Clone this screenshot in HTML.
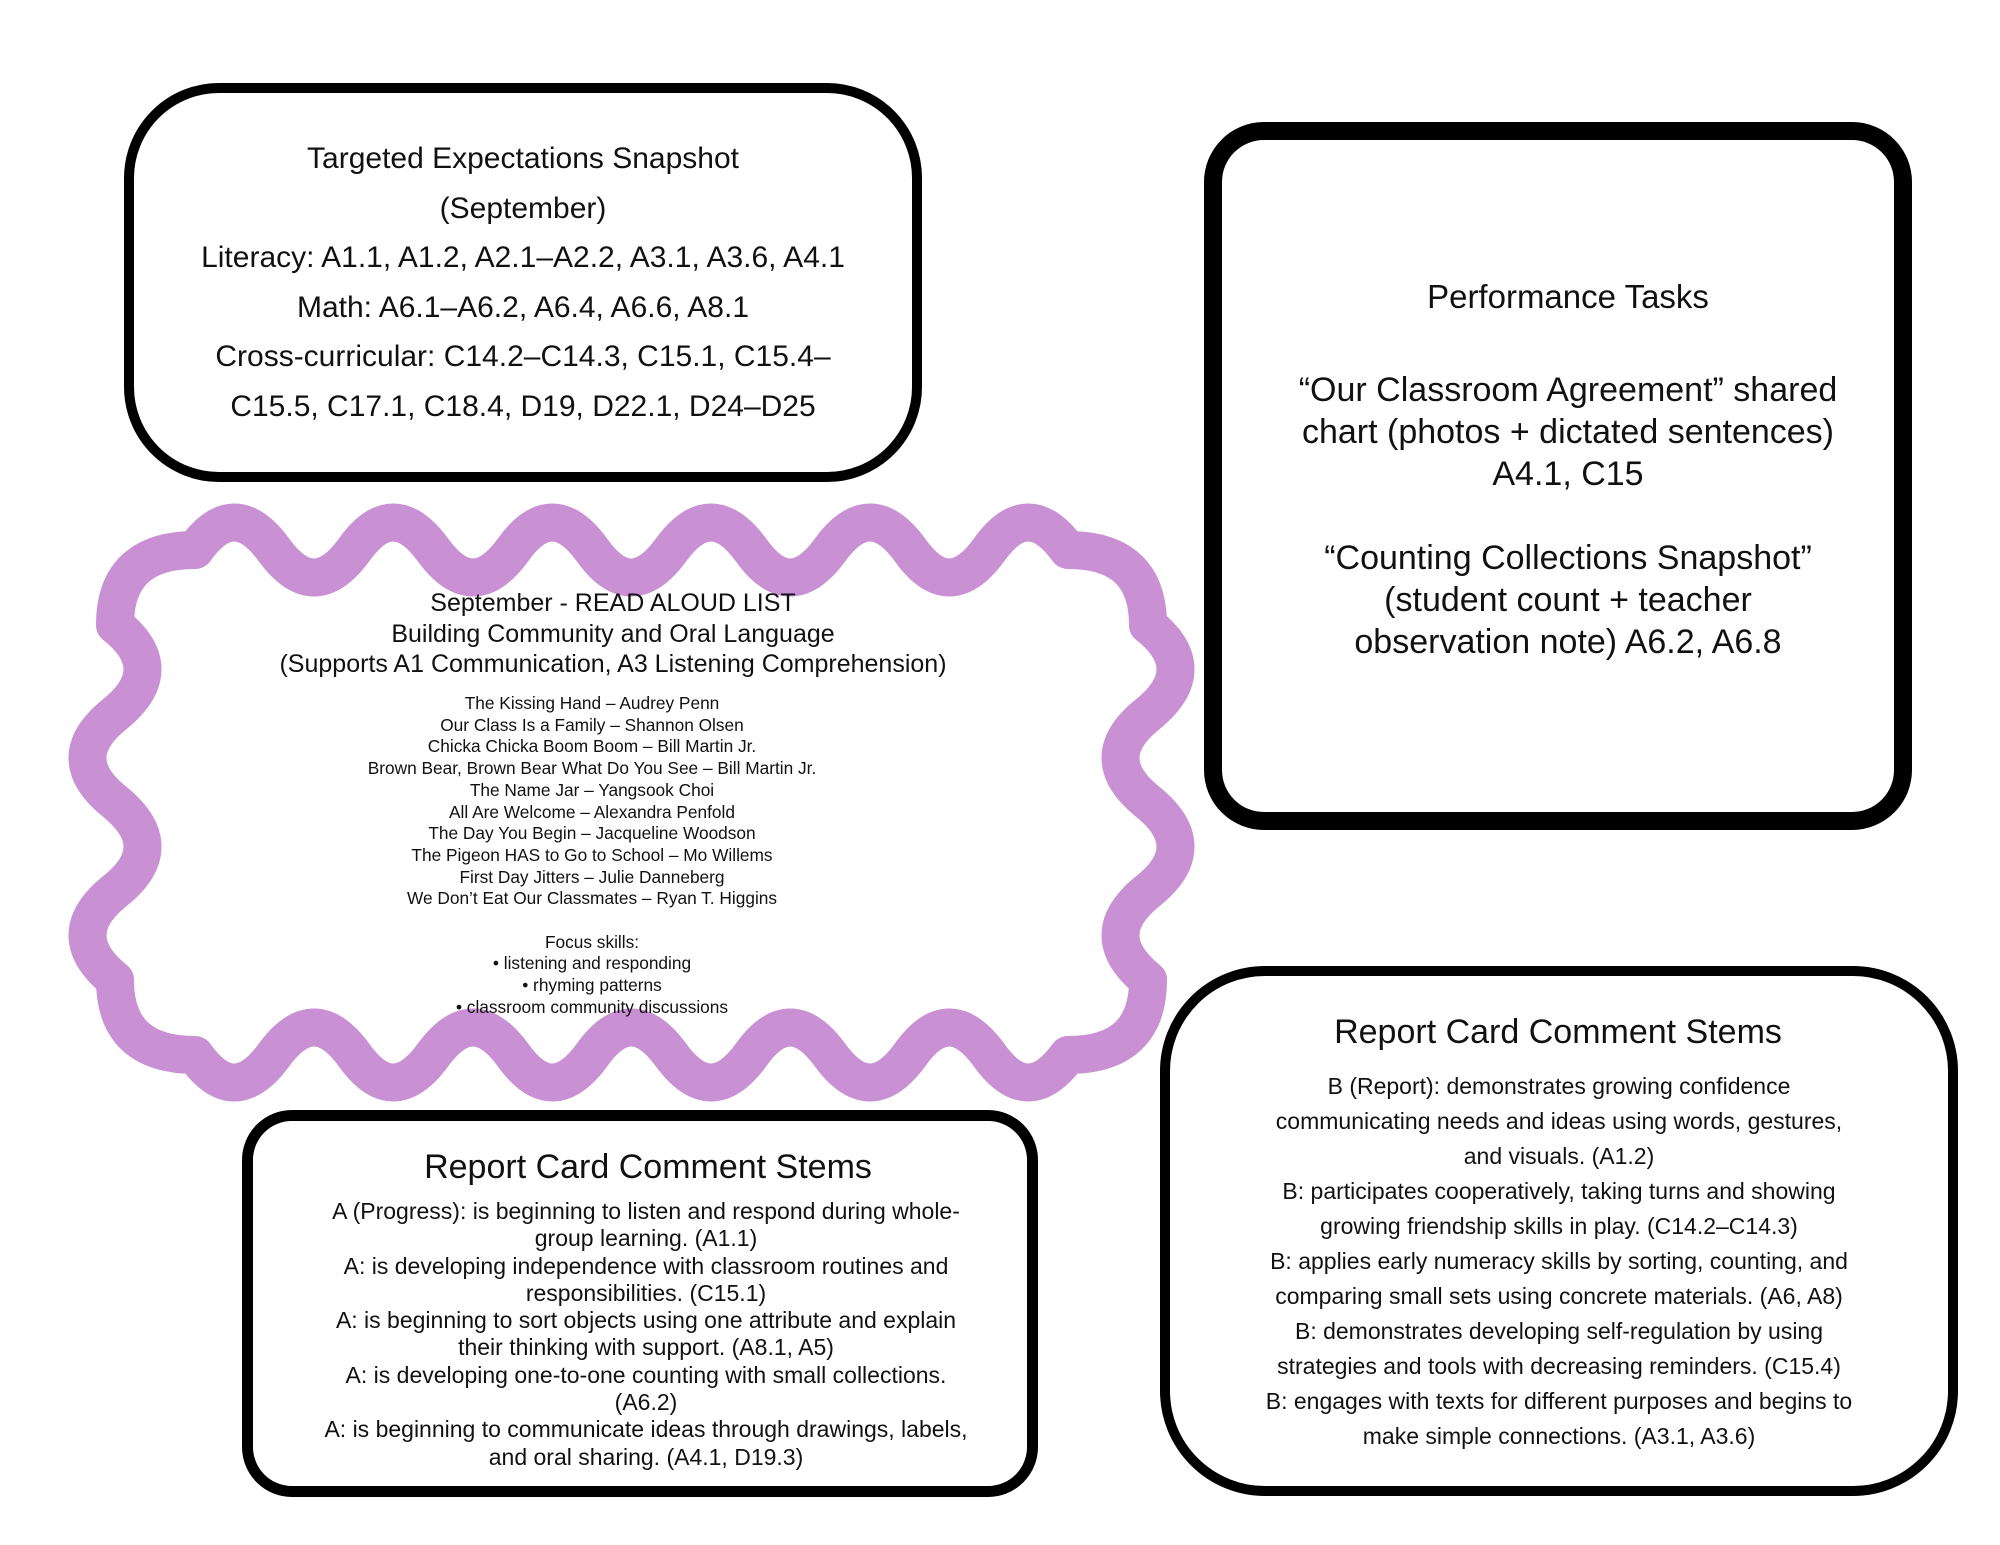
<!DOCTYPE html>
<html><head><meta charset="utf-8"><style>
html,body{margin:0;padding:0;background:#fff;}
body{width:2000px;height:1545px;position:relative;overflow:hidden;font-family:"Liberation Sans",sans-serif;color:#111;}
.box{position:absolute;box-sizing:border-box;border:solid #000;background:transparent;}
.t{position:absolute;text-align:center;white-space:nowrap;transform:translateX(-50%);}
</style></head><body>
<div class="box" style="left:124px;top:83px;width:798px;height:399px;border-width:10px;border-radius:95px;"></div>
<div class="box" style="left:1204px;top:122px;width:708px;height:708px;border-width:18px;border-radius:60px;"></div>
<div class="box" style="left:242px;top:1110px;width:796px;height:387px;border-width:11px;border-radius:50px;"></div>
<div class="box" style="left:1160px;top:966px;width:798px;height:530px;border-width:10px;border-radius:105px;"></div>

<svg style="position:absolute;left:0;top:0" width="2000" height="1545">
<path fill="none" stroke="#c990d4" stroke-width="38" stroke-linejoin="round" stroke-linecap="round" d="
M195 550 Q234 495 274 550 Q314 605 354 550 Q393 495 433 550 Q473 605 513 550 Q552 495 592 550 Q631 605 671 550 Q711 495 751 550 Q790 605 830 550 Q870 495 910 550 Q949 605 989 550 Q1028 495 1068 550
Q1148 550 1148 625
Q1203 669 1148 714 Q1093 758 1148 802 Q1203 847 1148 891 Q1093 935 1148 980
Q1148 1055 1068 1055
Q1028 1110 989 1055 Q949 1000 910 1055 Q870 1110 830 1055 Q790 1000 751 1055 Q711 1110 671 1055 Q631 1000 592 1055 Q552 1110 513 1055 Q473 1000 433 1055 Q393 1110 354 1055 Q314 1000 274 1055 Q234 1110 195 1055
Q115 1055 115 980
Q60 935 115 891 Q170 847 115 802 Q60 758 115 714 Q170 669 115 625
Q115 550 195 550 Z"/>
</svg>

<div class="t" style="left:523px;top:134px;font-size:30px;line-height:49.5px;">Targeted Expectations Snapshot<br>(September)<br>Literacy: A1.1, A1.2, A2.1–A2.2, A3.1, A3.6, A4.1<br>Math: A6.1–A6.2, A6.4, A6.6, A8.1<br>Cross-curricular: C14.2–C14.3, C15.1, C15.4–<br>C15.5, C17.1, C18.4, D19, D22.1, D24–D25</div>

<div class="t" style="left:1568px;top:278px;font-size:33px;line-height:38px;">Performance Tasks</div>
<div class="t" style="left:1568px;top:369px;font-size:34px;line-height:42px;">“Our Classroom Agreement” shared<br>chart (photos + dictated sentences)<br>A4.1, C15<br><br>“Counting Collections Snapshot”<br>(student count + teacher<br>observation note) A6.2, A6.8</div>

<div class="t" style="left:613px;top:588px;font-size:25px;line-height:30.5px;">September - READ ALOUD LIST<br>Building Community and Oral Language<br>(Supports A1 Communication, A3 Listening Comprehension)</div>
<div class="t" style="left:592px;top:693px;font-size:17.3px;line-height:21.7px;">The Kissing Hand – Audrey Penn<br>Our Class Is a Family – Shannon Olsen<br>Chicka Chicka Boom Boom – Bill Martin Jr.<br>Brown Bear, Brown Bear What Do You See – Bill Martin Jr.<br>The Name Jar – Yangsook Choi<br>All Are Welcome – Alexandra Penfold<br>The Day You Begin – Jacqueline Woodson<br>The Pigeon HAS to Go to School – Mo Willems<br>First Day Jitters – Julie Danneberg<br>We Don’t Eat Our Classmates – Ryan T. Higgins<br><br>Focus skills:<br>• listening and responding<br>• rhyming patterns<br>• classroom community discussions</div>

<div class="t" style="left:648px;top:1147px;font-size:34px;line-height:40px;">Report Card Comment Stems</div>
<div class="t" style="left:646px;top:1198px;font-size:23px;line-height:27.3px;">A (Progress): is beginning to listen and respond during whole-<br>group learning. (A1.1)<br>A: is developing independence with classroom routines and<br>responsibilities. (C15.1)<br>A: is beginning to sort objects using one attribute and explain<br>their thinking with support. (A8.1, A5)<br>A: is developing one-to-one counting with small collections.<br>(A6.2)<br>A: is beginning to communicate ideas through drawings, labels,<br>and oral sharing. (A4.1, D19.3)</div>

<div class="t" style="left:1558px;top:1012px;font-size:34px;line-height:40px;">Report Card Comment Stems</div>
<div class="t" style="left:1559px;top:1068.5px;font-size:23px;line-height:35px;">B (Report): demonstrates growing confidence<br>communicating needs and ideas using words, gestures,<br>and visuals. (A1.2)<br>B: participates cooperatively, taking turns and showing<br>growing friendship skills in play. (C14.2–C14.3)<br>B: applies early numeracy skills by sorting, counting, and<br>comparing small sets using concrete materials. (A6, A8)<br>B: demonstrates developing self-regulation by using<br>strategies and tools with decreasing reminders. (C15.4)<br>B: engages with texts for different purposes and begins to<br>make simple connections. (A3.1, A3.6)</div>
</body></html>
